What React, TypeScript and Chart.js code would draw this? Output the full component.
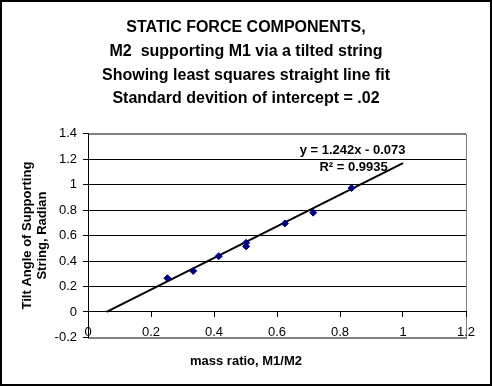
import React, { useEffect, useRef } from 'react';
import { Chart, registerables } from 'chart.js';

Chart.register(...registerables);

// ---- data ----
const massRatio = [0.252, 0.334, 0.415, 0.502, 0.502, 0.625, 0.715, 0.837];
const tiltAngle = [0.265, 0.322, 0.438, 0.543, 0.515, 0.695, 0.78, 0.973];
const fitX = [0.059, 1.0];
const fitY = [0.0, 1.169];

const titleLines = [
  'STATIC FORCE COMPONENTS,',
  'M2  supporting M1 via a tilted string',
  'Showing least squares straight line fit',
  'Standard devition of intercept = .02',
];
const yTitleLines = ['Tilt Angle of Supporting', 'String, Radian'];
const xTitle = 'mass ratio, M1/M2';
const equationText = 'y = 1.242x - 0.073';
const r2Text = 'R\u00B2 = 0.9935';
const equationAnchor = [0.84, 1.27];
const r2Anchor = [0.843, 1.133];

const xMin = 0, xMax = 1.2, xStep = 0.2;
const yMin = -0.2, yMax = 1.4, yStep = 0.2;

const FONT = 'Arial, "Liberation Sans", sans-serif';

const fmt = (v: number) => {
  const r = Math.round(v * 10) / 10;
  return Math.abs(r) < 1e-9 ? '0' : String(r);
};

export default function App() {
  const ref = useRef<HTMLCanvasElement>(null);
  useEffect(() => {
    document.body.style.margin = '0';
    const canvas = ref.current!;
    const near = (a: number, b: number) => Math.abs(a - b) < 1e-6;

    const framePlugin = {
      id: 'frame',
      beforeDraw(chart: any) {
        const { ctx, chartArea: a } = chart;
        ctx.save();
        ctx.fillStyle = '#ffffff';
        ctx.fillRect(0, 0, chart.width, chart.height);
        ctx.strokeStyle = '#808080';
        ctx.lineWidth = 1;
        ctx.strokeRect(Math.round(a.left) + 0.5, Math.round(a.top) + 0.5, Math.round(a.right - a.left), Math.round(a.bottom - a.top));
        ctx.restore();
      },
      afterDraw(chart: any) {
        const { ctx } = chart;
        const xs = chart.scales.x, ys = chart.scales.y;
        ctx.save();
        ctx.fillStyle = '#000';
        ctx.font = `bold 13px ${FONT}`;
        ctx.textAlign = 'center';
        ctx.textBaseline = 'middle';
        ctx.fillText(equationText, xs.getPixelForValue(equationAnchor[0]), ys.getPixelForValue(equationAnchor[1]));
        ctx.fillText(r2Text, xs.getPixelForValue(r2Anchor[0]), ys.getPixelForValue(r2Anchor[1]));
        ctx.strokeStyle = '#000';
        ctx.lineWidth = 2;
        ctx.strokeRect(1, 1, chart.width - 2, chart.height - 2);
        ctx.restore();
      },
    };

    const chart = new Chart(canvas, {
      type: 'scatter',
      data: {
        datasets: [
          {
            label: 'fit',
            data: fitX.map((x, i) => ({ x, y: fitY[i] })),
            showLine: true,
            borderColor: '#000',
            borderWidth: 2,
            pointRadius: 0,
            order: 2,
          },
          {
            label: 'data',
            data: massRatio.map((x, i) => ({ x, y: tiltAngle[i] })),
            pointStyle: 'rectRot',
            pointRadius: 3.5,
            backgroundColor: '#000080',
            borderColor: '#000080',
            borderWidth: 1,
            order: 1,
          },
        ],
      },
      options: {
        responsive: false,
        animation: false,
        devicePixelRatio: 1,
        layout: { padding: { left: 13, right: 13, top: 0, bottom: 0 } },
        plugins: {
          legend: { display: false },
          tooltip: { enabled: false },
          title: {
            display: true,
            text: titleLines,
            color: '#000',
            font: { family: FONT, size: 16, weight: 'bold', lineHeight: 1.48 },
            padding: { top: 16, bottom: 23 },
          },
          subtitle: {
            display: true,
            position: 'bottom',
            text: xTitle,
            color: '#000',
            font: { family: FONT, size: 13, weight: 'bold', lineHeight: 1.2 },
            padding: { top: 16, bottom: 17 },
          },
        },
        scales: {
          x: {
            type: 'linear',
            position: { y: 0 } as any,
            min: xMin,
            max: xMax,
            afterFit(scale: any) {
              scale.height = 0;
              scale.paddingLeft = 0;
              scale.paddingRight = 0;
            },
            ticks: {
              stepSize: xStep,
              color: '#000',
              font: { family: FONT, size: 13 },
              padding: 8,
              maxRotation: 0,
              autoSkip: false,
              callback: (v: any) => fmt(Number(v)),
            },
            grid: {
              drawOnChartArea: false,
              drawTicks: true,
              tickLength: 5,
              color: '#000',
              tickColor: '#000',
            },
            border: { display: true, color: '#000', width: 1 },
          },
          y: {
            type: 'linear',
            position: 'left',
            min: yMin,
            max: yMax,
            afterFit(scale: any) {
              scale.width = 75;
              scale.paddingTop = 0;
              scale.paddingBottom = 0;
            },
            ticks: {
              stepSize: yStep,
              color: '#000',
              font: { family: FONT, size: 13 },
              padding: 6,
              callback: (v: any) => fmt(Number(v)),
            },
            grid: {
              drawTicks: true,
              tickLength: 5,
              color: (c: any) =>
                c.tick && (near(c.tick.value, yMax) || near(c.tick.value, yMin)) ? '#808080' : '#000',
              tickColor: '#000',
            },
            border: { display: true, color: '#000', width: 1 },
            title: {
              display: true,
              text: yTitleLines,
              color: '#000',
              font: { family: FONT, size: 13, weight: 'bold', lineHeight: 1.15 },
              padding: { top: 7, bottom: 0 },
            },
          },
          yPad: {
            type: 'linear',
            position: 'right',
            display: true,
            afterFit(scale: any) {
              scale.width = 13;
              scale.paddingTop = 0;
              scale.paddingBottom = 0;
            },
            ticks: { display: false },
            grid: { display: false },
            border: { display: false },
            title: { display: false },
          },
        },
      },
      plugins: [framePlugin],
    } as any);
    return () => chart.destroy();
  }, []);

  return (
    <div style={{ position: 'absolute', left: 0, top: 0, width: 492, height: 386 }}>
      <canvas ref={ref} width={492} height={386} style={{ display: 'block', width: 492, height: 386 }} />
    </div>
  );
}
